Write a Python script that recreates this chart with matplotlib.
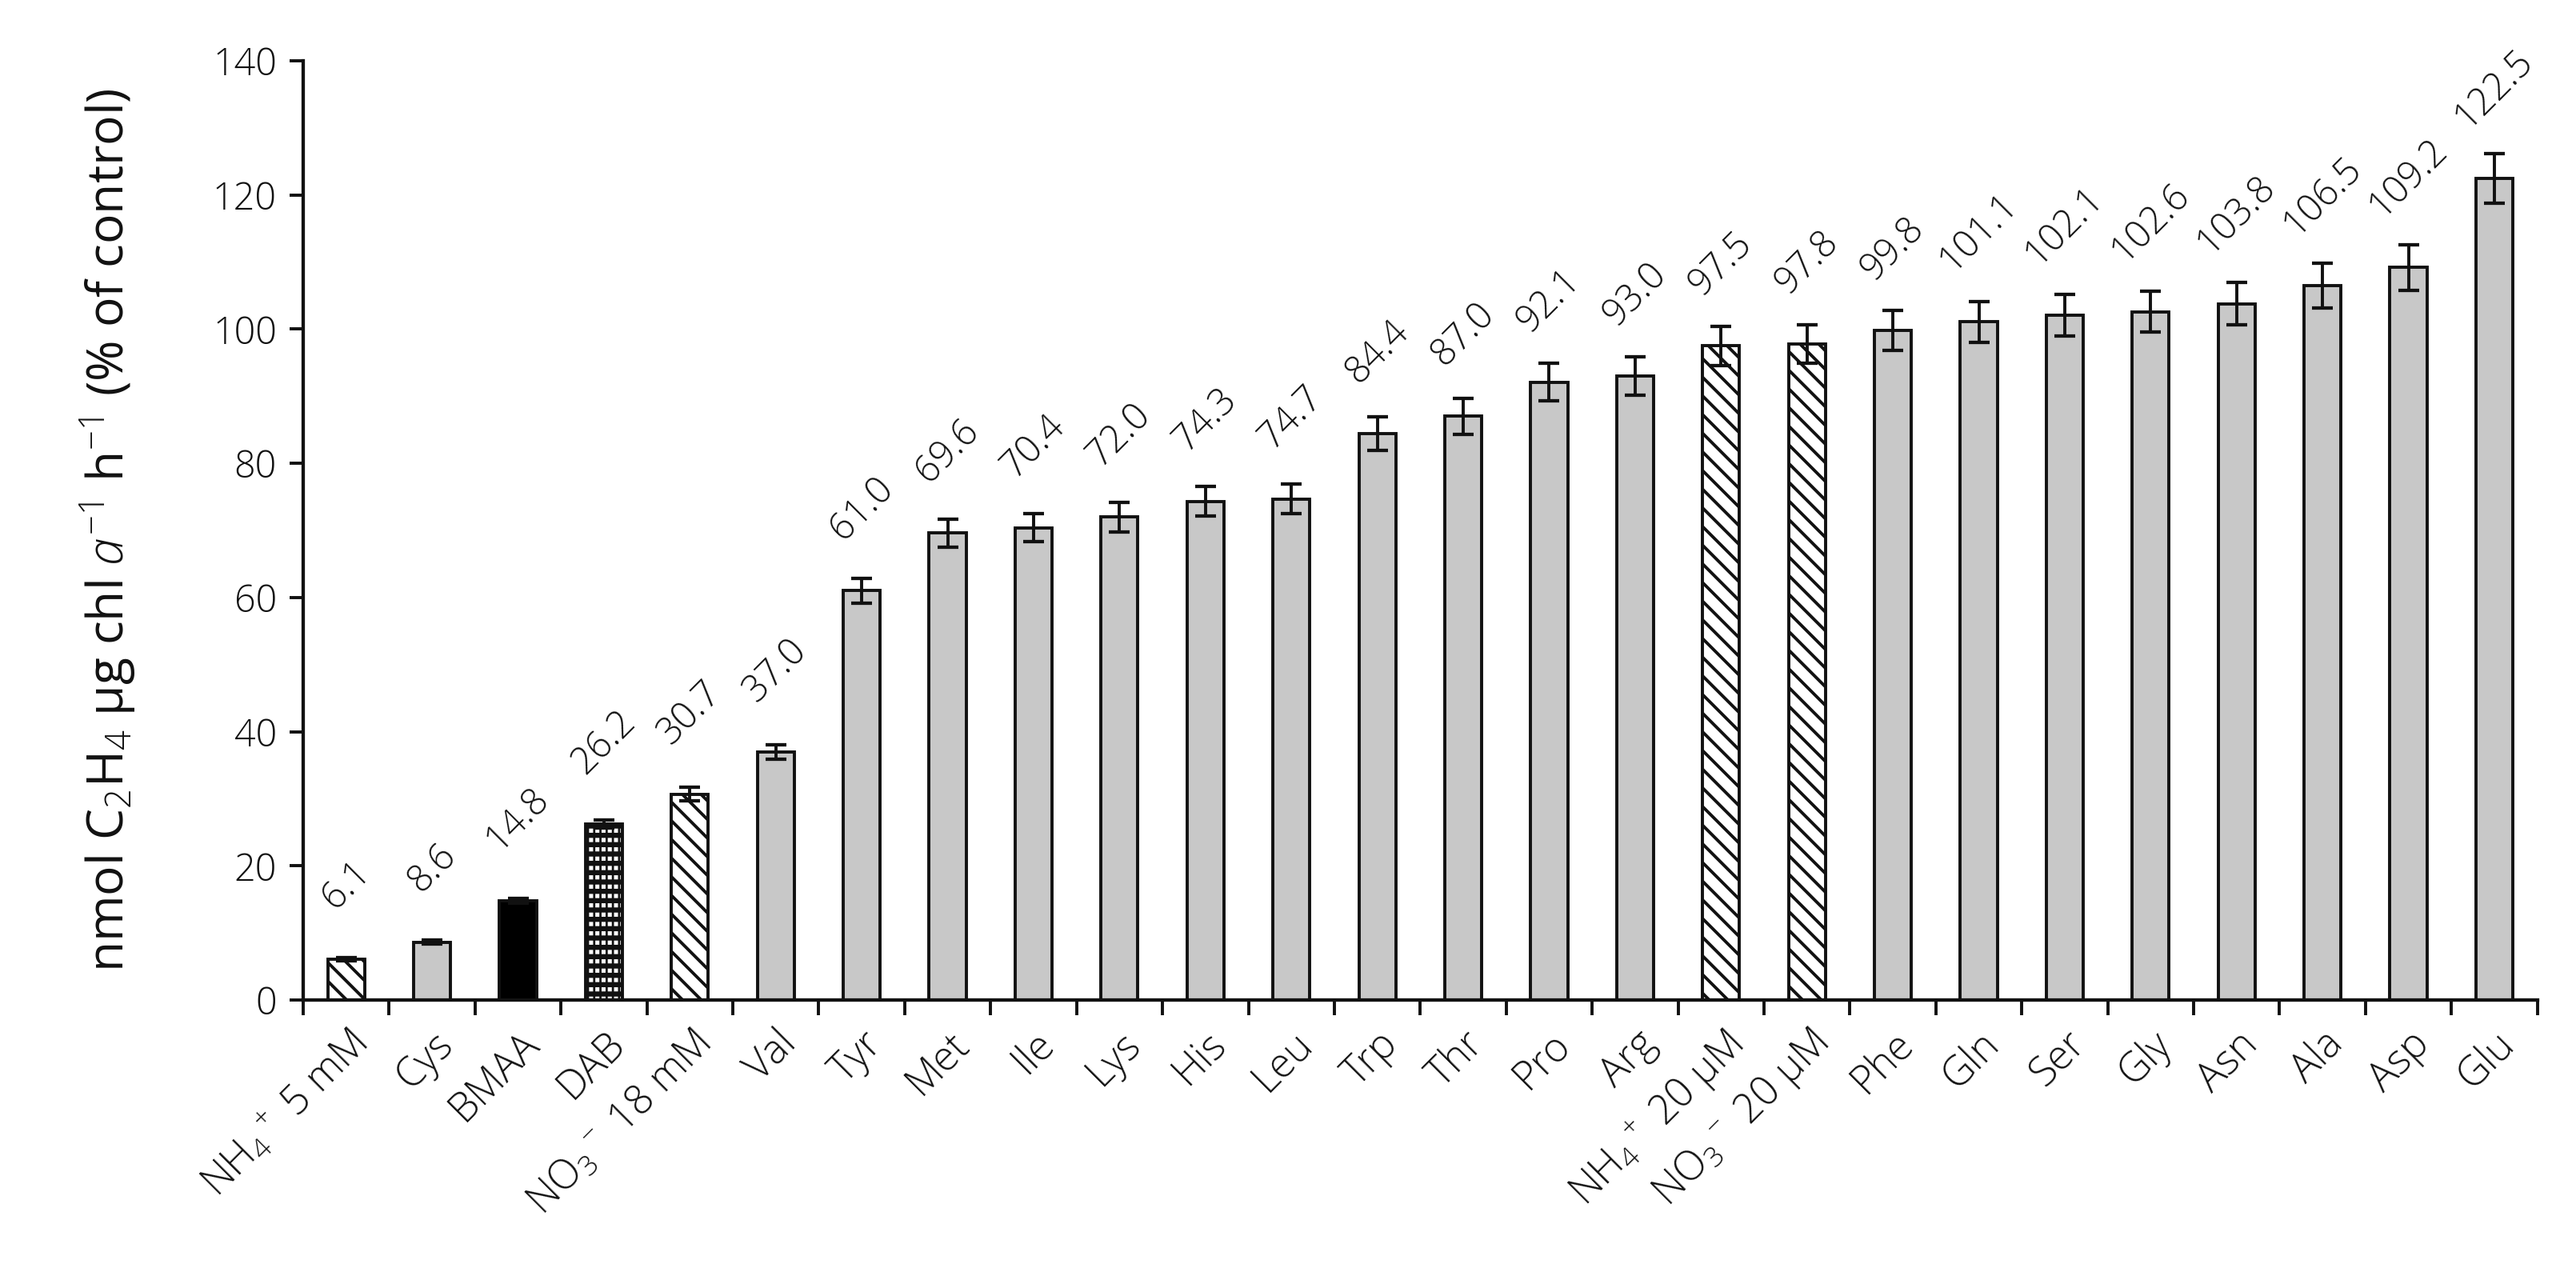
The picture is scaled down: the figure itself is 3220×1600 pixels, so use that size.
import numpy as np
import matplotlib
matplotlib.use("Agg")
import matplotlib.pyplot as plt

categories = [r'NH$_4$$^+$ 5 mM', 'Cys', 'BMAA', 'DAB', r'NO$_3$$^-$ 18 mM', 'Val', 'Tyr',
              'Met', 'Ile', 'Lys', 'His', 'Leu', 'Trp', 'Thr', 'Pro', 'Arg',
              r'NH$_4$$^+$ 20 µM', r'NO$_3$$^-$ 20 µM', 'Phe', 'Gln', 'Ser', 'Gly',
              'Asn', 'Ala', 'Asp', 'Glu']
values = [6.1, 8.6, 14.8, 26.2, 30.7, 37.0, 61.0, 69.6, 70.4, 72.0, 74.3, 74.7, 84.4,
          87.0, 92.1, 93.0, 97.5, 97.8, 99.8, 101.1, 102.1, 102.6, 103.8, 106.5, 109.2, 122.5]
errors = [0.25, 0.3, 0.4, 0.6, 1.0, 1.1, 1.9, 2.1, 2.1, 2.2, 2.2, 2.25, 2.5, 2.7, 2.8,
          2.9, 2.9, 2.9, 3.0, 3.05, 3.1, 3.05, 3.15, 3.3, 3.4, 3.7]
fill_kind = ['hatch', 'gray', 'black', 'grid', 'hatch', 'gray', 'gray', 'gray', 'gray',
             'gray', 'gray', 'gray', 'gray', 'gray', 'gray', 'gray', 'hatch', 'hatch',
             'gray', 'gray', 'gray', 'gray', 'gray', 'gray', 'gray', 'gray']
yticks = [0, 20, 40, 60, 80, 100, 120, 140]
ylabel = r'nmol C$_2$H$_4$ µg chl $a^{-1}$ h$^{-1}$ (% of control)'

FONT = 'Open Sans'
plt.rcParams['font.family'] = [FONT, 'DejaVu Sans']
plt.rcParams['font.weight'] = 'light'
plt.rcParams['mathtext.fontset'] = 'custom'
plt.rcParams['mathtext.rm'] = FONT + ':light'
plt.rcParams['mathtext.it'] = FONT + ':italic:light'
plt.rcParams['mathtext.bf'] = FONT + ':bold'
plt.rcParams['hatch.linewidth'] = 2.0

DPI = 140
fig = plt.figure(figsize=(3220 / DPI, 1600 / DPI), dpi=DPI)
ax = fig.add_axes([0.1177, 0.21875, 0.9850 - 0.1177, 0.9525 - 0.21875])

x = np.arange(len(categories))
EDGE = '#111111'
BW = 0.43


def set_hlw(bars, lw):
    for b in bars:
        if hasattr(b, 'set_hatch_linewidth'):
            b.set_hatch_linewidth(lw)


for xi, v, k in zip(x, values, fill_kind):
    if k == 'gray':
        ax.bar(xi, v, width=BW, color='#c8c8c8', edgecolor=EDGE, linewidth=2.0, zorder=2)
    elif k == 'black':
        ax.bar(xi, v, width=BW, color='black', edgecolor=EDGE, linewidth=2.0, zorder=2)
    elif k == 'hatch':
        b = ax.bar(xi, v, width=BW, color='white', edgecolor=EDGE, linewidth=2.0,
                   hatch='\\\\', zorder=2)
        set_hlw(b, 2.0)
    else:  # checkered DAB
        ax.bar(xi, v, width=BW, color='white', edgecolor='none', linewidth=0, zorder=2)
        b1 = ax.bar(xi, v, width=BW, facecolor='none', edgecolor=EDGE, linewidth=0,
                    hatch='--', zorder=2.1)
        set_hlw(b1, 3.3)
        b2 = ax.bar(xi, v, width=BW, facecolor='none', edgecolor=EDGE, linewidth=0,
                    hatch='|||', zorder=2.2)
        set_hlw(b2, 1.4)
        ax.bar(xi, v, width=BW, facecolor='none', edgecolor=EDGE, linewidth=2.0, zorder=2.3)

ax.errorbar(x, values, yerr=errors, fmt='none', ecolor=EDGE, elinewidth=2.0,
            capsize=6.5, capthick=2.2, zorder=3)

for xi, v in zip(x, values):
    ax.annotate(f'{v:.1f}', (xi, v), xytext=(0, 27), textcoords='offset points',
                ha='center', va='bottom', rotation=45, fontsize=24, color='#111111')

ax.set_xlim(-0.5, len(categories) - 0.5)
ax.set_ylim(0, 140)
ax.set_yticks(yticks)
ax.set_yticklabels([str(t) for t in yticks], fontsize=24, color='#111111')

ax.set_xticks(np.arange(-0.5, len(categories), 1.0))
ax.set_xticklabels([])
ax.set_xticks(x, minor=True)
ax.set_xticklabels(categories, minor=True, rotation=45, ha='right', va='top',
                   rotation_mode='anchor', fontsize=26, color='#111111')
ax.tick_params(axis='x', which='minor', length=0, pad=15)
ax.tick_params(axis='x', which='major', length=10, width=2.0, color=EDGE)
ax.tick_params(axis='y', which='major', length=9, width=2.0, color=EDGE, pad=8)

for s in ['top', 'right']:
    ax.spines[s].set_visible(False)
for s in ['left', 'bottom']:
    ax.spines[s].set_linewidth(2.2)
    ax.spines[s].set_color(EDGE)

ax.set_ylabel(ylabel, fontsize=32, color='#111111')
ax.yaxis.set_label_coords(-0.074, 0.5)

fig.savefig('out.png', dpi=DPI, facecolor='white')
